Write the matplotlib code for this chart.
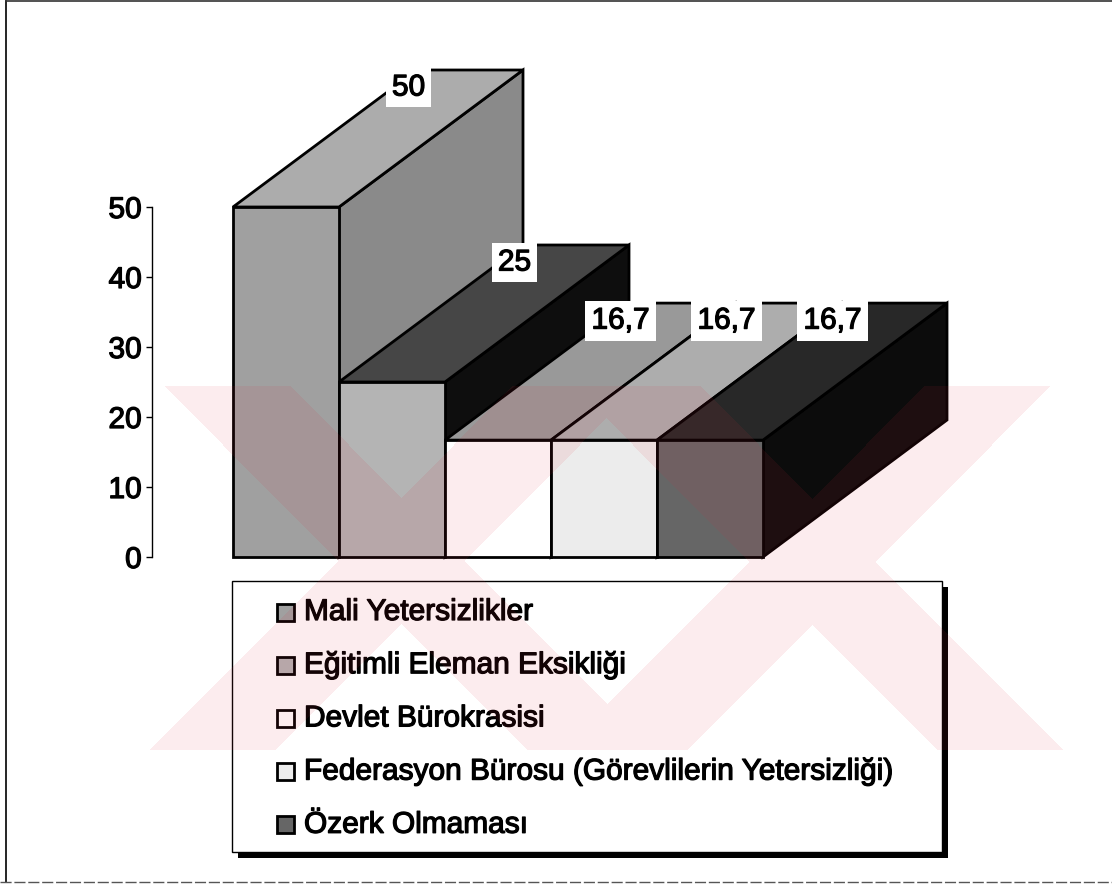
import numpy as np
import matplotlib
matplotlib.use("Agg")
import matplotlib.pyplot as plt
from matplotlib.patches import Polygon, Rectangle
import matplotlib.patheffects as pe

# ---- data -------------------------------------------------------------
categories = [
    "Mali Yetersizlikler",
    "Eğitimli Eleman Eksikliği",
    "Devlet Bürokrasisi",
    "Federasyon Bürosu (Görevlilerin Yetersizliği)",
    "Özerk Olmaması",
]
values = [50, 25, 16.7, 16.7, 16.7]
value_labels = ["50", "25", "16,7", "16,7", "16,7"]
y_ticks = [0, 10, 20, 30, 40, 50]

# face shades of each block (front, top, right side)
front_colors = ["#a0a0a0", "#b4b4b4", "#ffffff", "#ececec", "#666666"]
top_colors = ["#acacac", "#464646", "#999999", "#adadad", "#282828"]
side_colors = ["#8a8a8a", "#0e0e0e", "#777777", "#8a8a8a", "#0c0c0c"]

plt.rcParams["font.family"] = ["Liberation Sans", "DejaVu Sans"]
heavy = [pe.withStroke(linewidth=0.9, foreground="black")]

W, H = 1112, 888
fig = plt.figure(figsize=(W / 100, H / 100), dpi=100)
fig.patch.set_facecolor("white")

# ---- value axes --------------------------------------------------------
px_unit_x = 106.0      # pixels per category
px_unit_y = 7.0        # pixels per value unit
ax_left_px, ax_right_px = 152, 960
base_px, top_px = 557, 40
ax = fig.add_axes([ax_left_px / W, (H - base_px) / H,
                   (ax_right_px - ax_left_px) / W, (base_px - top_px) / H])
x_min = -0.5 - (233 - ax_left_px) / px_unit_x
x_max = -0.5 + (ax_right_px - 233) / px_unit_x
ax.set_xlim(x_min, x_max)
ax.set_ylim(0, (base_px - top_px) / px_unit_y)
ax.patch.set_alpha(0)

# oblique depth offset of the 3-D blocks
DX = 184 / px_unit_x
DY = 137 / px_unit_y

edge_kw = dict(edgecolor="black", linewidth=2.0, joinstyle="miter", clip_on=False)
for i, v in enumerate(values):
    x0, x1 = i - 0.5, i + 0.5
    side = [(x1, 0), (x1 + DX, DY), (x1 + DX, v + DY), (x1, v)]
    top = [(x0, v), (x1, v), (x1 + DX, v + DY), (x0 + DX, v + DY)]
    front = [(x0, 0), (x1, 0), (x1, v), (x0, v)]
    ax.add_patch(Polygon(side, closed=True, facecolor=side_colors[i], zorder=2 + i, **edge_kw))
    ax.add_patch(Polygon(top, closed=True, facecolor=top_colors[i], zorder=2 + i, **edge_kw))
    ax.add_patch(Polygon(front, closed=True, facecolor=front_colors[i], zorder=2 + i, **edge_kw))

for i, (v, lab) in enumerate(zip(values, value_labels)):
    ax.text(i - 0.5 + DX - 0.08, v + DY - 2.5, lab, ha="center", va="center",
            fontsize=21.5, color="black", zorder=20, path_effects=heavy,
            bbox=dict(boxstyle="square,pad=0.2", facecolor="white", edgecolor="none"))

for s in ["top", "right", "bottom"]:
    ax.spines[s].set_visible(False)
ax.spines["left"].set_bounds(0, 50)
ax.spines["left"].set_linewidth(1.0)
ax.set_xticks([])
ax.set_yticks(y_ticks)
ax.set_yticklabels([str(t) for t in y_ticks])
ax.tick_params(axis="y", direction="out", length=4.5, width=1.0, labelsize=21.5, pad=3)
for lbl in ax.get_yticklabels():
    lbl.set_path_effects(heavy)

# ---- overlay in pixel space: frame, legend, background mark -----------
ov = fig.add_axes([0, 0, 1, 1], zorder=5)
ov.set_xlim(0, W)
ov.set_ylim(H, 0)
ov.axis("off")
ov.patch.set_alpha(0)

# outer frame
ov.plot([6, 6], [1, 882], color="black", lw=1.2)
ov.plot([6, W], [1.5, 1.5], color="#333333", lw=1.2)
ov.plot([0, W], [882, 882], color="#555555", lw=1.0, ls=(0, (8, 2)))

# legend box with drop shadow
lg_l, lg_t, lg_r, lg_b = 232, 581, 942, 852
ov.add_patch(Rectangle((lg_l + 6, lg_t + 6), lg_r - lg_l, lg_b - lg_t,
                       facecolor="black", edgecolor="none", zorder=1))
ov.add_patch(Rectangle((lg_l, lg_t), lg_r - lg_l, lg_b - lg_t,
                       facecolor="white", edgecolor="black", lw=1.0, zorder=2))
row0, row_step = 612, 53.2
for i, name in enumerate(categories):
    yc = row0 + i * row_step
    ov.add_patch(Rectangle((277, yc - 8.5), 17, 17, facecolor=front_colors[i],
                           edgecolor="black", lw=2.0, zorder=3))
    ov.text(304, yc, name, ha="left", va="center", fontsize=21.5, color="black",
            zorder=4, path_effects=heavy)

# faint pink background mark
yy, xx = np.mgrid[0:H, 0:W] + 0.5
band_y = (yy >= 387) & (yy <= 750)
t = yy - 387
bands = [
    (xx - t >= 165) & (xx - t <= 290),     # "\" left
    (xx + t >= 925) & (xx + t <= 1050),    # "/" right
    (xx - t >= 575) & (xx - t <= 700),     # "\" right
    (xx + t >= 513) & (xx + t <= 638),     # "/" left
]
mask = band_y & np.any(bands, axis=0)
rgba = np.zeros((H, W, 4))
rgba[..., 0] = 225 / 255
rgba[..., 1] = 40 / 255
rgba[..., 2] = 60 / 255
rgba[..., 3] = np.where(mask, 0.09, 0.0)
ov.imshow(rgba, extent=(0, W, H, 0), interpolation="nearest", zorder=10, aspect="auto")
ov.set_xlim(0, W)
ov.set_ylim(H, 0)

fig.savefig("out.png", dpi=100, facecolor="white")
